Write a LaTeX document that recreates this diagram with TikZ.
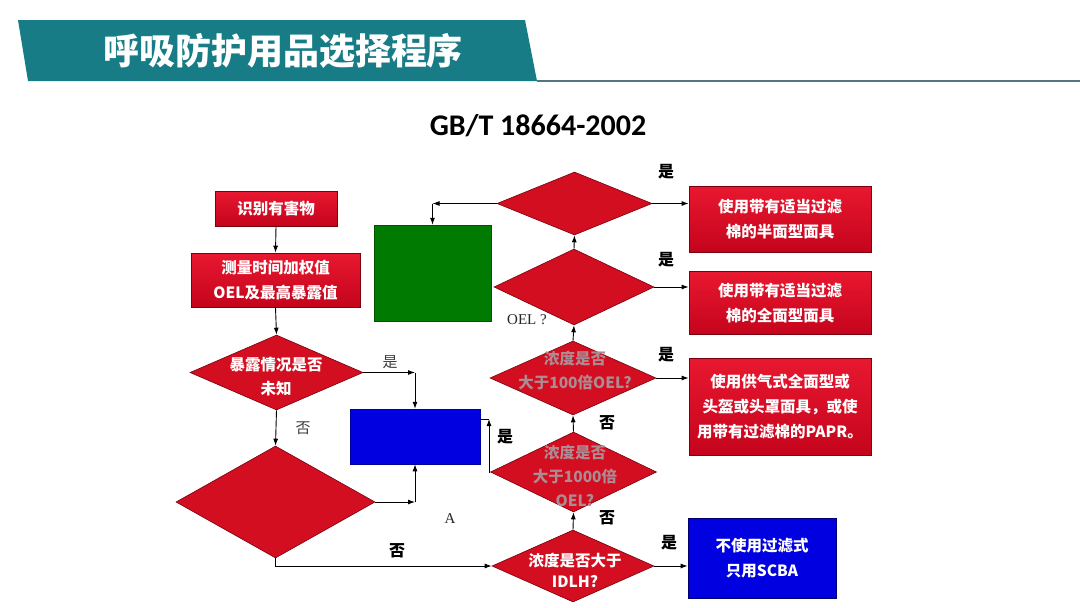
\documentclass[tikz,border=0pt]{standalone}
\usepackage{fontspec}
\usetikzlibrary{shapes.geometric,arrows.meta,calc}
\newfontfamily\cjk{Noto Sans CJK SC}
\newfontfamily\lat{Carlito}
\newfontfamily\ser{Liberation Serif}
\definecolor{hdr}{RGB}{24,124,134}
\definecolor{hline}{RGB}{80,118,128}
\definecolor{redT}{RGB}{232,24,48}
\definecolor{redB}{RGB}{196,4,28}
\definecolor{redD}{RGB}{120,0,15}
\definecolor{dred}{RGB}{210,14,32}
\definecolor{blueA}{RGB}{0,0,225}
\definecolor{greenA}{RGB}{0,122,0}
\definecolor{grayT}{RGB}{172,140,146}
\tikzset{
  rbox/.style={draw=redD, line width=0.8pt, top color=redT, bottom color=redB, text=white,
    font=\cjk\bfseries\fontsize{15.5}{25}\selectfont, align=center, inner sep=0pt},
  dia/.style={diamond, draw=redD, line width=0.6pt, fill=dred, inner sep=0pt},
  dtxt/.style={text=white, font=\cjk\bfseries\fontsize{15.5}{24}\selectfont, align=center},
  gtxt/.style={text=grayT, font=\cjk\bfseries\fontsize{15.5}{24}\selectfont, align=center},
  arr/.style={-{Latex[length=7pt,width=5pt]}, line width=0.9pt, black},
  lab/.style={font=\cjk\bfseries\fontsize{16}{16}\selectfont, text=black},
  slab/.style={font=\cjk\fontsize{15}{15}\selectfont, text=black!75},
  serlab/.style={font=\ser\fontsize{15}{15}\selectfont, text=black!85},
}
\begin{document}
\begin{tikzpicture}[x=1pt,y=-1pt]
\useasboundingbox (0,0) rectangle (1080,608);
\fill[white] (0,0) rectangle (1080,608);
% header
\fill[hdr] (18,20) -- (525,20) -- (537,81) -- (28,81) -- cycle;
\draw[hline, line width=2pt] (537,81) -- (1080,81);
\node[text=white, font=\cjk\bfseries\fontsize{36}{36}\selectfont] (title) at (283,51) {呼吸防护用品选择程序};
\node[font=\lat\bfseries\fontsize{30}{30}\selectfont] (std) at (538,126) {GB/T 18664-2002};
% left column
\node[rbox, minimum width=122pt, minimum height=35pt] (b1) at (276,208.5) {识别有害物};
\node[rbox, minimum width=169pt, minimum height=54pt] (b2) at (275.5,280) {测量时间加权值\\OEL及最高暴露值};
\node[dia, minimum width=173pt, minimum height=75pt] (d1) at (276.5,372.5) {};
\node[dtxt] (d1t) at (276,377) {暴露情况是否\\未知};
\node[dia, minimum width=199pt, minimum height=112pt] (d2) at (275.5,502) {};
\node[draw=blueA!70!black, line width=0.5pt, fill=blueA, minimum width=130pt, minimum height=55pt, inner sep=0pt] (blue) at (415,436.5) {};
\node[draw=greenA!70!black, line width=0.5pt, fill=greenA, minimum width=117pt, minimum height=96pt, inner sep=0pt] (green) at (432.5,273) {};
% right column diamonds
\node[dia, minimum width=155pt, minimum height=63pt] (r1) at (574.5,203.5) {};
\node[dia, minimum width=160pt, minimum height=76pt] (r2) at (574,287) {};
\node[dia, minimum width=166pt, minimum height=74pt] (r3) at (573,378) {};
\node[gtxt] (r3t) at (575,371) {浓度是否\\大于100倍OEL?};
\node[dia, minimum width=166pt, minimum height=80pt] (r4) at (573.5,472) {};
\node[gtxt] (r4t) at (575,476) {浓度是否\\大于1000倍\\OEL?};
\node[dia, minimum width=162pt, minimum height=72pt] (r5) at (573,566) {};
\node[dtxt, font=\cjk\bfseries\fontsize{15.5}{21}\selectfont] (r5t) at (575,570) {浓度是否大于\\IDLH?};
% right boxes
\node[rbox, minimum width=182pt, minimum height=66pt] (o1) at (780,219) {使用带有适当过滤\\棉的半面型面具};
\node[rbox, minimum width=182pt, minimum height=63pt] (o2) at (780,303) {使用带有适当过滤\\棉的全面型面具};
\node[rbox, minimum width=182pt, minimum height=97pt] (o3) at (780,407) {使用供气式全面型或\\头盔或头罩面具，或使\\用带有过滤棉的PAPR。};
\node[draw=blueA!50!black, line width=0.8pt, fill=blueA, minimum width=148pt, minimum height=80pt, inner sep=0pt, text=white, font=\cjk\bfseries\fontsize{15.5}{25}\selectfont, align=center] (o4) at (762,558) {不使用过滤式\\只用SCBA};
% connectors
\draw[arr] (b1.south) -- (b2.north);
\draw[arr] (b2.south) -- (d1.north);
\coordinate (c1) at (blue.north |- d1.east);
\draw[arr] (d1.east) -- (c1);
\draw[arr] (c1) -- (blue.north);
\draw[arr] (d1.south) -- (d2.north);
\coordinate (c2) at (blue.south |- d2.east);
\draw[arr] (d2.east) -- (c2);
\draw[arr] (c2) -- (blue.south);
\draw[arr] (d2.south) |- (r5.west);
\draw[arr] (r5.east) -- (o4.west |- r5.east);
\draw[arr] (r5.north) -- (r4.south);
\draw[arr] (r4.north) -- (r3.south);
\draw[arr] (r3.north) -- (r2.south);
\draw[arr] (r2.north) -- (r1.south);
\draw[arr] (r1.east) -- (o1.west |- r1.east);
\draw[arr] (r2.east) -- (o2.west |- r2.east);
\draw[arr] (r3.east) -- (o3.west |- r3.east);
\coordinate (c3) at (green.north |- r1.west);
\draw[arr] (r1.west) -- (c3);
\draw[arr] (c3) -- (green.north);
\coordinate (c4) at (489,419);
\draw[arr] (r4.west) -| (c4);
\draw[line width=0.9pt] (c4) -- (blue.east |- c4);
% labels
\node[lab] (l1) at (666,172) {是};
\node[lab] (l2) at (666,260) {是};
\node[lab] (l3) at (666,355) {是};
\node[lab] (l4) at (505,437) {是};
\node[lab] (l5) at (669,543) {是};
\node[lab] (l6) at (607,423) {否};
\node[lab] (l7) at (607,518) {否};
\node[lab] (l8) at (397,551) {否};
\node[slab] (l9) at (390,362) {是};
\node[slab] (l10) at (303,428) {否};
\node[serlab] (l11) at (527,320) {OEL ?};
\node[serlab] (l12) at (450,519) {A};
\end{tikzpicture}
\end{document}
